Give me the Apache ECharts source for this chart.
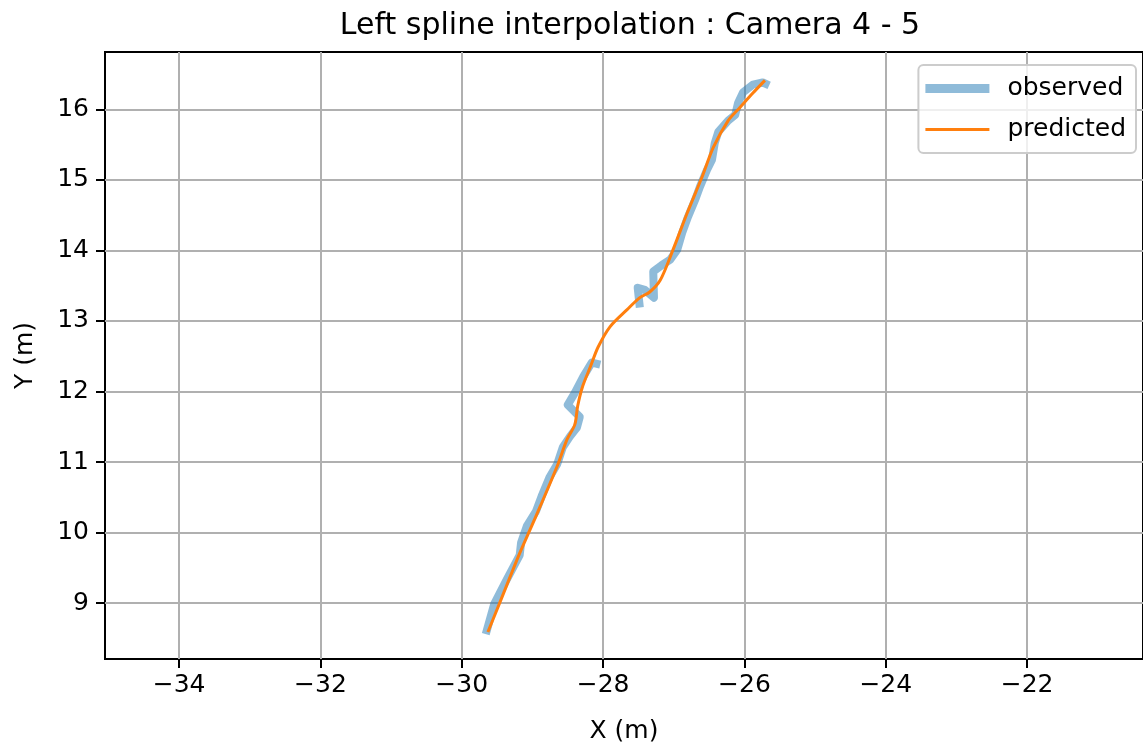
<!DOCTYPE html>
<html>
<head>
<meta charset="utf-8">
<script src="https://cdn.jsdelivr.net/npm/echarts@6/dist/echarts.min.js"></script>
<style>
html,body{margin:0;padding:0;background:#fff;}
#chart{width:1143px;height:749px;}
</style>
</head>
<body>
<div id="chart"></div>
<script>
// ---- data ----
const observedX = [-29.66, -29.54, -29.36, -29.18, -29.16, -29.08, -28.95, -28.86, -28.76, -28.65, -28.57, -28.47, -28.37, -28.33, -28.50, -28.40, -28.28, -28.16, -28.04, null,
  -27.48, -27.51, -27.41, -27.28, -27.29, -27.17, -27.05, -26.95, -26.88, -26.80, -26.70, -26.63, -26.53, -26.46, -26.42, -26.37, -26.23, -26.13, -26.09, -26.02, -25.88, -25.74, -25.65];
const observedY = [8.56, 8.99, 9.34, 9.68, 9.86, 10.09, 10.30, 10.54, 10.78, 10.97, 11.21, 11.36, 11.49, 11.64, 11.81, 11.98, 12.21, 12.41, 12.38, null,
  13.19, 13.47, 13.44, 13.33, 13.70, 13.79, 13.87, 14.01, 14.25, 14.47, 14.71, 14.90, 15.14, 15.28, 15.52, 15.68, 15.84, 15.92, 16.09, 16.24, 16.35, 16.38, 16.34];
const predictedX = [-29.63, -29.46, -29.20, -29.03, -28.89, -28.65, -28.51, -28.40, -28.36, -28.29, -28.18, -28.07, -27.90, -27.66, -27.48, -27.34, -27.19, -27.01, -26.81, -26.60, -26.44, -26.23, -26.06, -25.88, -25.71];
const predictedY = [8.59, 9.01, 9.66, 10.05, 10.37, 10.94, 11.32, 11.53, 11.79, 12.07, 12.35, 12.63, 12.92, 13.16, 13.33, 13.41, 13.58, 14.01, 14.53, 15.04, 15.46, 15.84, 16.03, 16.23, 16.41];
const xTicks = [-34, -32, -30, -28, -26, -24, -22];
const yTicks = [9, 10, 11, 12, 13, 14, 15, 16];
const seriesNames = ['observed', 'predicted'];
const titleText = 'Left spline interpolation : Camera 4 - 5';
const xName = 'X (m)';
const yName = 'Y (m)';

function pairs(xs, ys) {
  return xs.map((x, i) => (x === null || ys[i] === null) ? ['-', '-'] : [x, ys[i]]);
}

const FONT = 'DejaVu Sans';
const chart = echarts.init(document.getElementById('chart'), null, {renderer: 'canvas'});
chart.setOption({
  animation: false,
  backgroundColor: '#ffffff',
  title: {
    text: titleText,
    left: 625,
    top: 6,
    textAlign: 'center',
    textStyle: {fontFamily: FONT, fontSize: 30, fontWeight: 'normal', color: '#000'}
  },
  grid: {
    left: 105, top: 52, right: 0, bottom: 89,
    show: true, borderColor: '#000', borderWidth: 2, backgroundColor: 'transparent'
  },
  legend: {
    orient: 'vertical',
    right: 7, top: 65,
    data: [
      {name: seriesNames[0], icon: 'path://M0,0H64V9H0Z', itemStyle: {color: 'rgba(31,119,180,0.5)', opacity: 1}},
      {name: seriesNames[1], icon: 'path://M0,0H64V3H0Z', itemStyle: {color: '#ff7f0e'}}
    ],
    itemWidth: 64, itemHeight: 18, itemGap: 16,
    padding: [11, 10, 11, 7],
    backgroundColor: 'rgba(255,255,255,0.8)',
    borderColor: '#cccccc', borderWidth: 2, borderRadius: 5,
    textStyle: {fontFamily: FONT, fontSize: 25, color: '#000', padding: [0, 17, 0, 13]}
  },
  xAxis: {
    type: 'value',
    min: -35.048, max: -20.36,
    name: xName, nameLocation: 'middle', nameGap: 60,
    nameTextStyle: {fontFamily: FONT, fontSize: 25, color: '#000'},
    axisLine: {show: false},
    axisTick: {show: true, inside: false, length: 9, customValues: xTicks, lineStyle: {color: '#000', width: 2}},
    axisLabel: {customValues: xTicks, fontFamily: FONT, fontSize: 25, color: '#000', margin: 14,
      formatter: v => (v < 0 ? '\u2212' + Math.abs(v) : String(v))},
    splitLine: {show: true, lineStyle: {color: '#b0b0b0', width: 2}}
  },
  yAxis: {
    type: 'value',
    min: 8.208, max: 16.812,
    name: yName, nameLocation: 'middle', nameGap: 67,
    nameTextStyle: {fontFamily: FONT, fontSize: 25, color: '#000'},
    axisLine: {show: false},
    axisTick: {show: true, inside: false, length: 9, customValues: yTicks, lineStyle: {color: '#000', width: 2}},
    axisLabel: {customValues: yTicks, fontFamily: FONT, fontSize: 25, color: '#000', margin: 16},
    splitLine: {show: true, lineStyle: {color: '#b0b0b0', width: 2}}
  },
  series: [
    {
      name: seriesNames[0], type: 'line',
      data: pairs(observedX, observedY),
      showSymbol: false, symbol: 'none', connectNulls: false,
      lineStyle: {color: '#1f77b4', width: 8, opacity: 0.5, join: 'round', cap: 'butt'},
      itemStyle: {color: '#1f77b4', opacity: 0.5},
      z: 2
    },
    {
      name: seriesNames[1], type: 'line',
      data: pairs(predictedX, predictedY),
      showSymbol: false, symbol: 'none', smooth: 0.3,
      lineStyle: {color: '#ff7f0e', width: 3, opacity: 1},
      itemStyle: {color: '#ff7f0e'},
      z: 3
    }
  ]
});
</script>
</body>
</html>
